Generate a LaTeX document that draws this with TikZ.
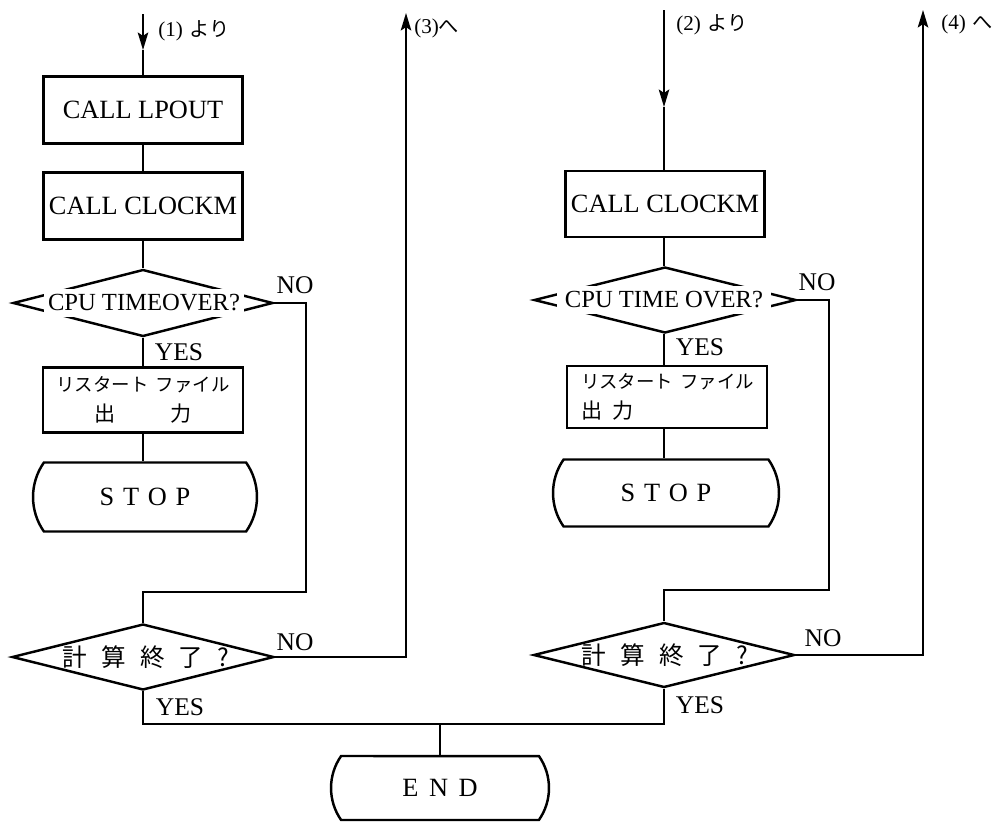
\documentclass[tikz,border=0pt]{standalone}
\usepackage{fontspec}
\setmainfont{Liberation Serif}
\newfontfamily\jp{Noto Sans CJK JP}
\usetikzlibrary{shapes.geometric,shapes.misc,arrows.meta}
\begin{document}
\begin{tikzpicture}[x=0.02cm,y=-0.02cm,
  conn/.style={line width=1pt},
  tip/.style={-{Stealth[length=10pt,width=6pt,inset=2pt]}},
  procbox/.style={draw,line width=1.4pt,rectangle,inner sep=0pt,font=\fontsize{15}{18}\selectfont},
  decis/.style={draw,line width=1.4pt,diamond,inner sep=0pt},
  term/.style={draw,line width=1.4pt,rounded rectangle,rounded rectangle arc length=70,inner sep=0pt,font=\fontsize{15}{18}\selectfont},
  lbl/.style={inner sep=0pt,font=\fontsize{14.5}{17}\selectfont},
  ref/.style={inner sep=0pt,anchor=west,font=\fontsize{12}{14}\selectfont},
  cputext/.style={fill=white,inner sep=0pt,minimum height=0.56cm,font=\fontsize{14}{16}\selectfont},
  kantext/.style={inner sep=0pt,font=\fontsize{14}{16}\jp},
]
\useasboundingbox (0,0) rectangle (1003,822);

% ---------- left column ----------
\coordinate (in1) at (143,14);
\coordinate (m1) at (143,50);
\node[procbox,minimum width=3.98cm,minimum height=1.34cm] (b1) at (143,110) {CALL LPOUT};
\node[procbox,minimum width=3.98cm,minimum height=1.34cm] (b2) at (143,206) {CALL CLOCKM};
\node[decis,minimum width=5.2cm,minimum height=1.34cm] (d1) at (143,303) {};
\node[cputext,minimum width=4.0cm] (t1) at (144,303) {CPU TIMEOVER?};
\node[procbox,minimum width=4.0cm,minimum height=1.3cm,align=center] (b3) at (143,400)
  {{\fontsize{10.5}{12}\jp リスタート\hspace{4pt}ファイル}\\[-1pt]{\fontsize{12}{14}\jp 出\hspace{31pt}力}};
\node[term,minimum width=4.48cm,minimum height=1.38cm] (s1) at (145,497) {S\hspace{5pt}T\hspace{5pt}O\hspace{5pt}P};
\node[decis,minimum width=5.24cm,minimum height=1.32cm] (d3) at (143,657) {};
\node[kantext] (k1) at (146,657) {計\hspace{8pt}算\hspace{8pt}終\hspace{8pt}了\hspace{8pt}?};
\coordinate (c1) at (306,592);
\coordinate (out3) at (406,13);

% ---------- right column ----------
\coordinate (in2) at (664,10);
\coordinate (m2) at (664,107);
\node[procbox,minimum width=3.98cm,minimum height=1.32cm] (b4) at (665,204) {CALL CLOCKM};
\node[decis,minimum width=5.24cm,minimum height=1.32cm] (d2) at (665,300) {};
\node[cputext,minimum width=4.28cm] (t2) at (664,300) {CPU TIME OVER?};
\node[procbox,minimum height=1.24cm,inner xsep=0.28cm,text width=3.44cm,align=left] (b5) at (667,397)
  {\mbox{\fontsize{10.5}{12}\jp リスタート\hspace{4pt}ファイル}\\[-1pt]\mbox{\fontsize{12}{14}\jp 出\hspace{6pt}力}};
\node[term,minimum width=4.52cm,minimum height=1.34cm] (s2) at (666,493) {S\hspace{5pt}T\hspace{5pt}O\hspace{5pt}P};
\node[decis,minimum width=5.22cm,minimum height=1.3cm] (d4) at (664,655) {};
\node[kantext] (k2) at (665,655) {計\hspace{8pt}算\hspace{8pt}終\hspace{8pt}了\hspace{8pt}?};
\coordinate (c2) at (829,590);
\coordinate (out4) at (923,10);

% ---------- end ----------
\coordinate (j) at (440,724);
\node[term,minimum width=4.36cm,minimum height=1.28cm] (end) at (440,788) {E\hspace{6pt}N\hspace{6pt}D};

% ---------- labels ----------
\node[ref] (l1) at (158,31) {(1)\hspace{4pt}{\jp\fontsize{11.5}{13}\selectfont より}};
\node[ref] (l3) at (414,28) {(3){\jp\fontsize{11.5}{13}\selectfont へ}};
\node[ref] (l2) at (676,25) {(2)\hspace{4pt}{\jp\fontsize{11.5}{13}\selectfont より}};
\node[ref] (l4) at (941,24) {(4)\hspace{4pt}{\jp\fontsize{11.5}{13}\selectfont へ}};
\node[lbl] (no1) at (295,285) {NO};
\node[lbl] (no2) at (817,282) {NO};
\node[lbl] (no3) at (295,642) {NO};
\node[lbl] (no4) at (823,638) {NO};
\node[lbl] (yes1) at (179,352) {YES};
\node[lbl] (yes2) at (700,347) {YES};
\node[lbl] (yes3) at (180,707) {YES};
\node[lbl] (yes4) at (700,705) {YES};

% ---------- connectors ----------
\draw[conn,tip] (in1) -- (m1);
\draw[conn] (m1) -- (b1.north);
\draw[conn] (b1.south) -- (b2.north);
\draw[conn] (b2.south) -- (d1.north);
\draw[conn] (d1.south) -- (b3.north);
\draw[conn] (b3.south) -- (s1.north -| b3.south);
\draw[conn] (d1.east) -| (c1) -| (d3.north);
\draw[conn,tip] (d3.east) -| (out3);
\draw[conn] (d3.south) |- (j);

\draw[conn,tip] (in2) -- (m2);
\draw[conn] (m2) -- (b4.north -| m2);
\draw[conn] (b4.south -| m2) -- (d2.north -| m2);
\draw[conn] (d2.south -| m2) -- (b5.north -| m2);
\draw[conn] (b5.south -| m2) -- (s2.north -| m2);
\draw[conn] (d2.east) -| (c2) -| (d4.north);
\draw[conn,tip] (d4.east) -| (out4);
\draw[conn] (d4.south) |- (j);
\draw[conn] (j) -- (end.north);
\end{tikzpicture}
\end{document}
